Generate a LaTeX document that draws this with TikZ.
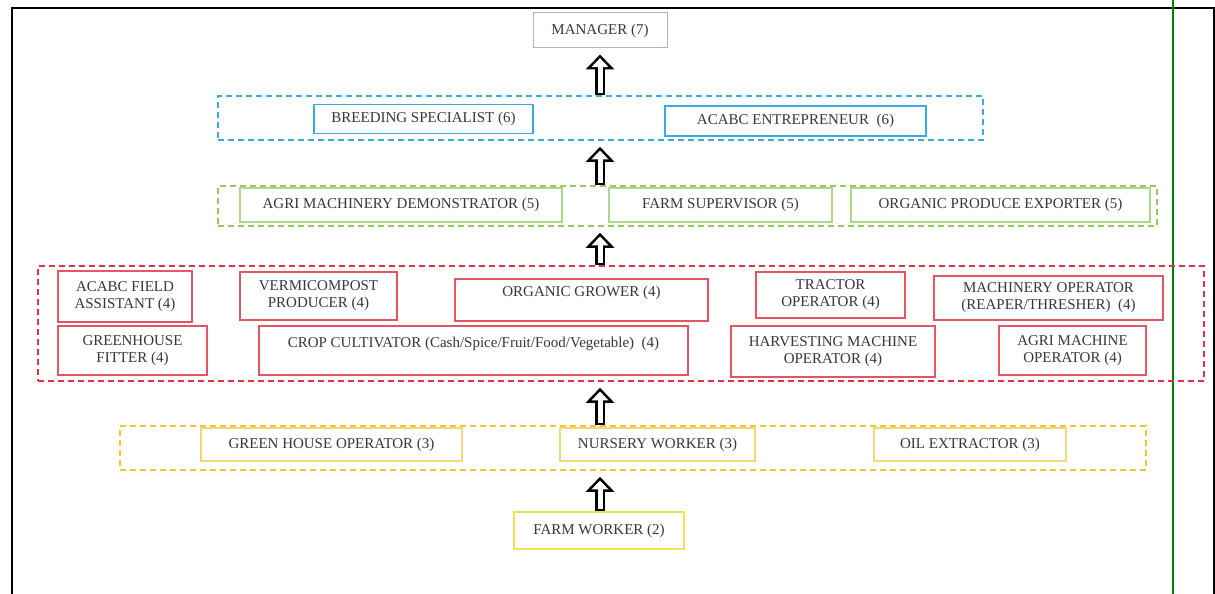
\documentclass[tikz,border=0pt]{standalone}
\usepackage{fontspec}
\setmainfont{Liberation Serif}
\usetikzlibrary{arrows.meta}
\definecolor{txtgray}{RGB}{55,55,55}
\definecolor{mgrgray}{RGB}{170,180,200}
\definecolor{skyblue}{RGB}{60,170,220}
\definecolor{leafgreen}{RGB}{150,200,100}
\definecolor{lightleaf}{RGB}{175,215,140}
\definecolor{brickred}{RGB}{225,50,70}
\definecolor{rosered}{RGB}{228,85,100}
\definecolor{gold}{RGB}{240,200,50}
\definecolor{lightgold}{RGB}{243,215,120}
\definecolor{lemon}{RGB}{240,225,80}
\definecolor{framegreen}{RGB}{0,128,0}
\tikzset{
  basic/.style  = {draw, rectangle, align=center, inner sep=0pt, text=txtgray,
                   font=\fontsize{15}{17}\selectfont},
  wh/.style 2 args = {minimum width=#1, minimum height=#2},
  group/.style  = {draw, rectangle, line width=1.6pt, dash pattern=on 6pt off 4pt},
  box7/.style   = {basic, line width=1pt, draw=mgrgray},
  box6/.style   = {basic, line width=1.2pt, draw=skyblue},
  box5/.style   = {basic, line width=1.2pt, draw=lightleaf},
  box4/.style   = {basic, line width=1.2pt, draw=rosered},
  box3/.style   = {basic, line width=1.2pt, draw=lightgold},
  box2/.style   = {basic, line width=1.2pt, draw=lemon},
  hightext/.style = {text depth=17pt},
  hollow out/.style = {line width=10pt, black, shorten >=6pt,
                       -{Triangle[length=15pt,width=28pt]}},
  hollow in/.style  = {line width=5pt, white, shorten >=9.7pt, shorten <=2.5pt,
                       -{Triangle[length=8.9pt,width=16.5pt]}}
}
\begin{document}
\begin{tikzpicture}[x=1pt, y=-1pt]
\useasboundingbox (0,0) rectangle (1215,594);

% page frame
\draw[line width=2pt] (12,594) -- (12,8) -- (1214,8) -- (1214,594);
\draw[framegreen, line width=1.5pt] (1173,0) -- (1173,594);

% dashed groups, one for each level
\node[group, draw=skyblue,   wh={765pt}{44pt}]  (bluegrp)   at (600.5,118) {};
\node[group, draw=leafgreen, wh={939pt}{40pt}]  (greengrp)  at (687.5,206) {};
\node[group, draw=brickred,  wh={1166pt}{115pt}] (redgrp)   at (621,323.5) {};
\node[group, draw=gold,      wh={1026pt}{44pt}] (yellowgrp) at (633,448) {};

% level 7
\node[box7, wh={134pt}{35pt}] (manager) at (600,30.5) {MANAGER (7)};

% level 6
\node[box6, wh={219pt}{29pt}] (breeder)   at (423.5,119) {BREEDING SPECIALIST (6)};
\node[box6, wh={261pt}{30pt}] (acabcent)  at (795.5,121) {ACABC ENTREPRENEUR \ (6)};

% level 5
\node[box5, wh={322pt}{34pt}] (demo)       at (401,205)    {AGRI MACHINERY DEMONSTRATOR (5)};
\node[box5, wh={223pt}{34pt}] (supervisor) at (720.5,205)  {FARM SUPERVISOR (5)};
\node[box5, wh={299pt}{34pt}] (exporter)   at (1000.5,205) {ORGANIC PRODUCE EXPORTER (5)};

% level 4, two rows
\node[box4, wh={134pt}{51pt}] (fieldasst)  at (125,296.5)   {ACABC FIELD\\ASSISTANT (4)};
\node[box4, wh={157pt}{48pt}] (vermi)      at (318.5,296)   {VERMICOMPOST\\PRODUCER (4)};
\node[box4, hightext, wh={253pt}{42pt}] (grower) at (581.5,300) {ORGANIC GROWER (4)};
\node[box4, wh={149pt}{46pt}] (tractor)    at (830.5,295)   {TRACTOR\\OPERATOR (4)};
\node[box4, wh={229pt}{44pt}] (reaper)     at (1048.5,298)  {MACHINERY OPERATOR\\(REAPER/THRESHER) \ (4)};
\node[box4, wh={149pt}{49pt}] (ghfitter)   at (132.5,350.5) {GREENHOUSE\\FITTER (4)};
\node[box4, hightext, wh={429pt}{49pt}] (cultivator) at (473.5,350.5)
  {CROP CULTIVATOR (Cash/Spice/Fruit/Food/Vegetable) \ (4)};
\node[box4, wh={204pt}{51pt}] (harvester)  at (833,351.5)   {HARVESTING MACHINE\\OPERATOR (4)};
\node[box4, wh={147pt}{49pt}] (agrimach)   at (1072.5,350.5) {AGRI MACHINE\\OPERATOR (4)};

% level 3
\node[box3, wh={261pt}{33pt}] (ghoperator) at (331.5,444.5) {GREEN HOUSE OPERATOR (3)};
\node[box3, wh={195pt}{33pt}] (nursery)    at (657.5,444.5) {NURSERY WORKER (3)};
\node[box3, wh={192pt}{33pt}] (oilext)     at (970,444.5)   {OIL EXTRACTOR (3)};

% level 2
\node[box2, wh={170pt}{37pt}] (farmworker) at (599,530.5) {FARM WORKER (2)};

% hollow arrows from each level up to the next one
\foreach \lo/\hi in {bluegrp/manager, greengrp/bluegrp, redgrp/greengrp,
                     yellowgrp/redgrp, farmworker/yellowgrp}
{
  \draw[hollow out] (\lo.north -| manager.south) -- (\hi.south -| manager.south);
  \draw[hollow in]  (\lo.north -| manager.south) -- (\hi.south -| manager.south);
}
\end{tikzpicture}
\end{document}
